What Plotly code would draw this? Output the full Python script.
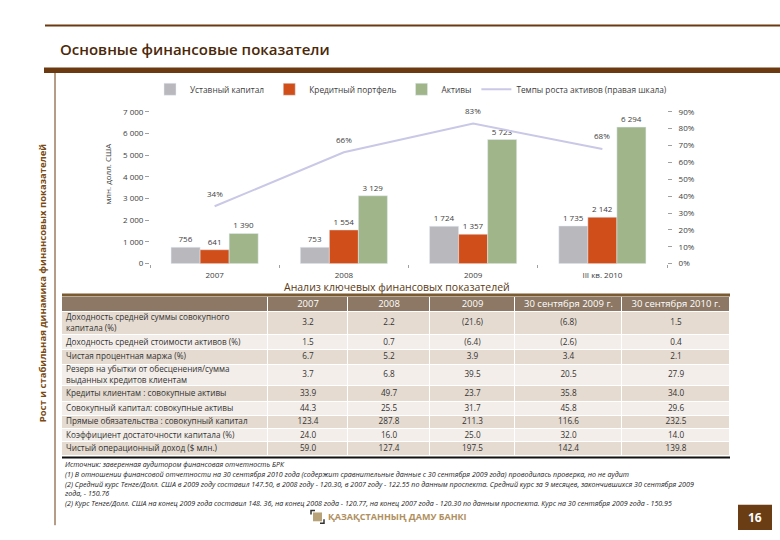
import plotly.graph_objects as go

W, H = 780, 540
def px(x): return x / W
def py(y): return 1 - y / H

# ---------------- data ----------------
categories = ["2007", "2008", "2009", "III кв. 2010"]
charter_capital = [756, 753, 1724, 1735]
loan_portfolio = [641, 1554, 1357, 2142]
assets = [1390, 3129, 5723, 6294]
asset_growth = [0.34, 0.66, 0.83, 0.68]
growth_labels = ["34%", "66%", "83%", "68%"]

series_names = ["Уставный капитал", "Кредитный портфель", "Активы",
                "Темпы роста активов (правая шкала)"]
colors = ["#b9b8bc", "#d04e1a", "#a0b68a", "#c9c8e6"]

table_header = ["", "2007", "2008", "2009", "30 сентября 2009 г.", "30 сентября 2010 г."]
table_rows = [
    "Доходность средней суммы совокупного<br>капитала (%)",
    "Доходность средней стоимости активов (%)",
    "Чистая процентная маржа (%)",
    "Резерв на убытки от обесценения/сумма<br>выданных кредитов клиентам",
    "Кредиты клиентам : совокупные активы",
    "Совокупный капитал: совокупные активы",
    "Прямые обязательства : совокупный капитал",
    "Коэффициент достаточности капитала (%)",
    "Чистый операционный доход ($ млн.)",
]
col_2007 = ["3.2", "1.5", "6.7", "3.7", "33.9", "44.3", "123.4", "24.0", "59.0"]
col_2008 = ["2.2", "0.7", "5.2", "6.8", "49.7", "25.5", "287.8", "16.0", "127.4"]
col_2009 = ["(21.6)", "(6.4)", "3.9", "39.5", "23.7", "31.7", "211.3", "25.0", "197.5"]
col_sep2009 = ["(6.8)", "(2.6)", "3.4", "20.5", "35.8", "45.8", "116.6", "32.0", "142.4"]
col_sep2010 = ["1.5", "0.4", "2.1", "27.9", "34.0", "29.6", "232.5", "14.0", "139.8"]

footnotes = [
    "Источник: заверенная аудитором финансовая отчетность БРК",
    "(1) В отношении финансовой отчетности на 30 сентября 2010 года (содержит сравнительные данные с 30 сентября 2009 года) проводилась проверка, но не аудит",
    "(2) Средний курс Тенге/Долл. США в 2009 году составил 147.50, в 2008 году - 120.30, в 2007 году - 122.55 по данным проспекта. Средний курс за 9 месяцев, закончившихся 30 сентября 2009",
    "года, - 150.76",
    "(2) Курс Тенге/Долл. США на конец 2009 года составил 148. 36, на конец 2008 года - 120.77, на конец 2007 года - 120.30 по данным проспекта. Курс на 30 сентября 2009 года - 150.95",
]

# ---------------- table layout (style) ----------------
col_widths = [206, 80, 82, 85, 107, 108]
row_heights = [15, 24, 15, 15, 22, 16, 14, 14, 13, 14]   # header + 9 rows
TBL_X0, TBL_Y0 = 62, 297

FONT = "Open Sans"
BROWN = "#6b3a10"
TXT = "#404040"

fig = go.Figure()

for vals, name, col in zip([charter_capital, loan_portfolio, assets], series_names[:3], colors[:3]):
    fig.add_trace(go.Bar(
        x=categories, y=vals, name=name, marker_color=col,
        texttemplate="%{y:,}", textposition="outside", constraintext="none",
        textfont=dict(size=8, color=TXT, family=FONT), cliponaxis=False,
        xaxis="x", yaxis="y", hoverinfo="skip",
    ))

fig.add_trace(go.Scatter(
    x=categories, y=asset_growth, name=series_names[3], yaxis="y2", xaxis="x",
    mode="lines", line=dict(color=colors[3], width=2), cliponaxis=False, hoverinfo="skip",
))

# ---- table built on its own axes: heatmap for cell fills, text traces for contents ----
x_edges = [0]
for w in col_widths:
    x_edges.append(x_edges[-1] + w)
y_edges = [0]
for h in row_heights:
    y_edges.append(y_edges[-1] + h)
x_centers = [(x_edges[i] + x_edges[i + 1]) / 2 for i in range(len(col_widths))]
y_centers = [(y_edges[i] + y_edges[i + 1]) / 2 for i in range(len(row_heights))]

n_rows = len(table_rows)
z = [[2] * len(col_widths)] + [[1 if i % 2 == 0 else 0] * len(col_widths) for i in range(n_rows)]
fig.add_trace(go.Heatmap(
    x=x_edges, y=y_edges, z=z, xaxis="x3", yaxis="y3",
    colorscale=[[0, "#f3eee9"], [0.5, "#e5dbd1"], [1, "#8c7864"]], zmin=0, zmax=2,
    showscale=False, xgap=1, ygap=1, hoverinfo="skip",
))
fig.add_trace(go.Scatter(
    x=x_centers[1:], y=[y_centers[0]] * 5, text=table_header[1:], mode="text",
    textposition="middle center", xaxis="x3", yaxis="y3", showlegend=False,
    textfont=dict(size=9.5, color="white", family=FONT), hoverinfo="skip",
))
fig.add_trace(go.Scatter(
    x=[4] * n_rows, y=y_centers[1:], text=table_rows, mode="text",
    textposition="middle right", xaxis="x3", yaxis="y3", showlegend=False,
    textfont=dict(size=8.2, color="#333333", family=FONT), hoverinfo="skip",
))
value_cols = [col_2007, col_2008, col_2009, col_sep2009, col_sep2010]
vx, vy, vt = [], [], []
for ci, col in enumerate(value_cols):
    for ri, v in enumerate(col):
        vx.append(x_centers[ci + 1]); vy.append(y_centers[ri + 1]); vt.append(v)
fig.add_trace(go.Scatter(
    x=vx, y=vy, text=vt, mode="text", textposition="middle center",
    xaxis="x3", yaxis="y3", showlegend=False,
    textfont=dict(size=8.2, color="#333333", family=FONT), hoverinfo="skip",
))

tbl_w = x_edges[-1]
tbl_h = y_edges[-1]

fig.update_layout(
    width=W, height=H, margin=dict(l=0, r=0, t=0, b=0),
    paper_bgcolor="white", plot_bgcolor="white",
    separators=". ",
    font=dict(family=FONT, color=TXT, size=8),
    barmode="group", bargap=0.326, bargroupgap=0,
    showlegend=True,
    legend=dict(orientation="h", x=px(150), y=py(85), xanchor="left", yanchor="middle",
                font=dict(size=8.3, color=TXT, family=FONT), itemwidth=30,
                traceorder="normal", bgcolor="rgba(0,0,0,0)"),
    xaxis=dict(type="category", domain=[px(150), px(667)], anchor="y", showgrid=False,
               showline=False, zeroline=False, ticks="outside", tickson="boundaries",
               ticklen=3, ticklabelstandoff=5,
               tickcolor="#a0a0a0", tickfont=dict(size=8, color=TXT)),
    yaxis=dict(domain=[py(263), py(108)], range=[0, 7000], dtick=1000,
               separatethousands=True, showgrid=False, zeroline=False, showline=False,
               ticks="outside", ticklen=4, tickcolor="#a0a0a0",
               tickfont=dict(size=8, color=TXT)),
    yaxis2=dict(overlaying="y", side="right", anchor="x", range=[0, 0.9], dtick=0.1,
                tickformat=".0%", showgrid=False, zeroline=False, showline=False,
                ticks="outside", ticklen=4, tickcolor="#a0a0a0", ticklabelstandoff=5,
                tickfont=dict(size=8, color=TXT)),
    xaxis3=dict(domain=[px(TBL_X0), px(TBL_X0 + tbl_w)], anchor="y3", range=[0, tbl_w],
                visible=False, fixedrange=True),
    yaxis3=dict(domain=[py(TBL_Y0 + tbl_h), py(TBL_Y0)], anchor="x3", range=[tbl_h, 0],
                visible=False, fixedrange=True),
)

shapes = [
    dict(type="line", xref="paper", yref="paper", x0=px(45), x1=px(780), y0=py(20), y1=py(20),
         line=dict(color=BROWN, width=2)),
    dict(type="line", xref="paper", yref="paper", x0=px(44), x1=px(780), y0=py(65.5), y1=py(65.5),
         line=dict(color=BROWN, width=5.5)),
    dict(type="line", xref="paper", yref="paper", x0=px(55), x1=px(55), y0=py(68), y1=py(530),
         line=dict(color=BROWN, width=1)),
    dict(type="line", xref="paper", yref="paper", x0=px(62), x1=px(730), y0=py(295), y1=py(295),
         line=dict(color="#7a5a30", width=3)),
    dict(type="line", xref="paper", yref="paper", x0=px(62), x1=px(730), y0=py(461), y1=py(461),
         line=dict(color="#111111", width=2)),
    dict(type="rect", xref="paper", yref="paper", x0=px(738), x1=px(772), y0=py(535), y1=py(509),
         fillcolor="#6b3d14", line=dict(width=0)),
    dict(type="rect", xref="paper", yref="paper", x0=px(313), x1=px(322), y0=py(526), y1=py(517),
         fillcolor="#b8a27a", line=dict(width=0)),
    dict(type="path", xref="paper", yref="paper",
         path=f"M {px(311)} {py(519)} L {px(311)} {py(515)} L {px(315)} {py(515)} "
              f"M {px(320)} {py(528)} L {px(324)} {py(528)} L {px(324)} {py(524)}",
         line=dict(color="#333333", width=1.5)),
]

annotations = [
    dict(text="Основные финансовые показатели", x=px(58), y=py(44), xref="paper", yref="paper",
         xanchor="left", yanchor="middle", showarrow=False,
         font=dict(size=15, color="#4a2808", family=FONT, weight=600)),
    dict(text="<b>Рост и стабильная динамика финансовых показателей</b>", x=px(42), y=py(283),
         xref="paper", yref="paper", textangle=-90, showarrow=False,
         xanchor="center", yanchor="middle",
         font=dict(size=9.5, color="#7a4a10", family=FONT)),
    dict(text="млн. долл. США", x=px(108), y=py(171), xref="paper", yref="paper",
         textangle=-90, showarrow=False, xanchor="center", yanchor="middle",
         font=dict(size=8, color=TXT, family=FONT)),
    dict(text="Анализ ключевых финансовых показателей", x=px(397), y=py(287),
         xref="paper", yref="paper", showarrow=False, xanchor="center", yanchor="middle",
         font=dict(size=10.5, color="#5a3a14", family=FONT)),
    dict(text="<b>ҚАЗАҚСТАННЫҢ ДАМУ БАНКІ</b>", x=px(326), y=py(521), xref="paper", yref="paper",
         showarrow=False, xanchor="left", yanchor="middle",
         font=dict(size=9, color="#b09060", family=FONT)),
    dict(text="<b>16</b>", x=px(755), y=py(522), xref="paper", yref="paper",
         showarrow=False, xanchor="center", yanchor="middle",
         font=dict(size=12, color="white", family=FONT)),
]
# growth-rate labels placed above the line points, in data coordinates (category index)
for i, (val, lab) in enumerate(zip(asset_growth, growth_labels)):
    annotations.append(dict(text=lab, x=i, y=val, xref="x", yref="y2", showarrow=False,
                            yshift=13, font=dict(size=8, color=TXT, family=FONT)))
footnote_y = [468, 478, 488, 497, 507]
for t, yy in zip(footnotes, footnote_y):
    annotations.append(dict(text=f"<i>{t}</i>", x=px(63), y=py(yy), xref="paper", yref="paper",
                            showarrow=False, xanchor="left", yanchor="middle",
                            font=dict(size=7.1, color="#222222", family=FONT)))

fig.update_layout(shapes=shapes, annotations=annotations)
fig.write_html("out.html", config={"displayModeBar": False},
               post_script="document.body.style.margin='0px';")
